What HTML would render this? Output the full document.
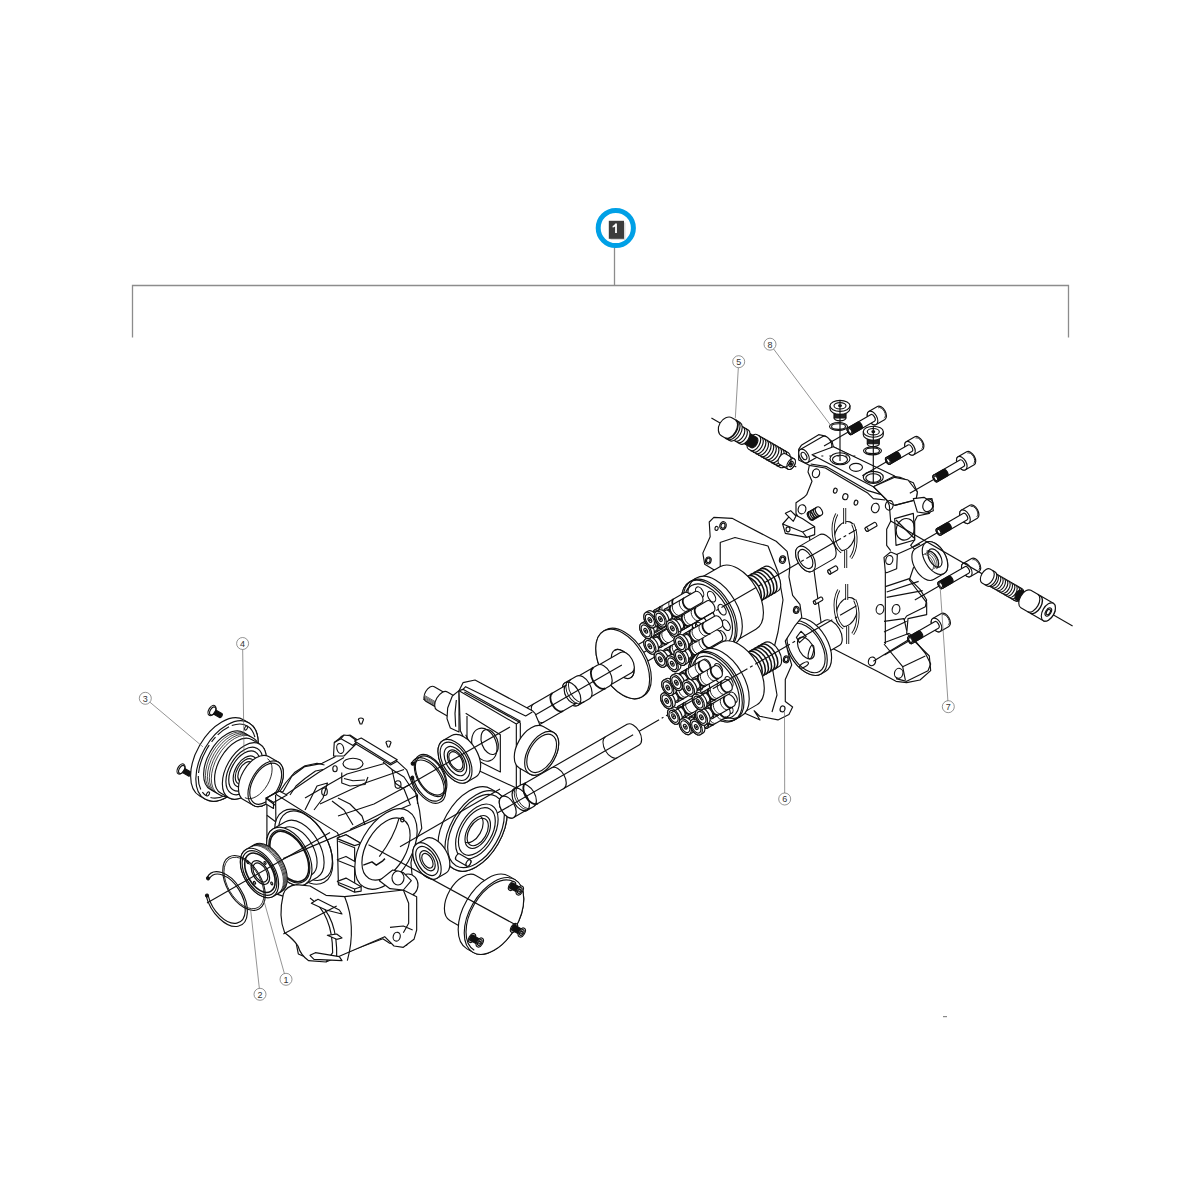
<!DOCTYPE html>
<html><head><meta charset="utf-8"><style>
html,body{margin:0;padding:0;background:#fff;width:1200px;height:1200px;overflow:hidden}
svg{display:block}
</style></head><body>
<svg width="1200" height="1200" viewBox="0 0 1200 1200">
<g stroke="#8c8c8c" stroke-width="1.3" fill="none"><path d="M132.5 337.5 V285.5 H1068.5 V337.5"/><path d="M614.5 285.5 V247"/></g>
<circle cx="615.8" cy="228" r="17.6" fill="#fff" stroke="#00a0e6" stroke-width="5"/>
<rect x="943" y="1016" width="4" height="1.2" fill="#888"/>
<rect x="610.5" y="222.5" width="15" height="17.5" fill="#d8d8d8"/>
<rect x="608.8" y="220.8" width="15.2" height="18" fill="#3c3c3c"/>
<path d="M615.3 223.6 L616.9 223.6 L616.9 233 L615.1 233 L615.1 226.4 Q613.9 227.3 612.6 227.6 L612.6 226.1 Q614.4 225.3 615.3 223.6Z" fill="#fff"/>
<g stroke="#111" stroke-width="1.15" stroke-linejoin="round" fill="#fff">
<path d="M798.67 449.33L801.33 445.33L818.67 434.67L825.33 436L832 441.33L833.33 446.67L892 476L900 477.33L913.33 482.67L917.33 492L916 500L932 498.67L933.33 506.67L929.33 513.33L917.33 516L914.67 521.33L914.67 540L910.67 545.33L918.67 553.33L921.33 561.33L913.33 568L909.33 580L926.67 602.67L926.67 614.67L908 618.67L906.67 633.33L929.33 656L930.67 670.67L920 680L906.67 682.67L896 681.33L878.67 672L824 644L809.33 536L804 526.67L796 513.33L796 502.67L804 497.33L806.67 494.67L812 481.33L808 472L809.33 465.33L798.67 460Z" fill="#fff" /><g transform="translate(804 456) rotate(-30)" ><path d="M0 -7.5L26 -7.5A4.35 7.5 0 0 1 26 7.5L0 7.5A4.35 7.5 0 0 1 0 -7.5Z" fill="#fff" /><ellipse cx="0" cy="0" rx="4.35" ry="7.5" fill="#fff" /><ellipse cx="0" cy="0" rx="2.32" ry="4" fill="none" /></g><path d="M812 454.67L833.33 446.67L894.67 476L873.33 486.67Z" fill="#fff" /><path d="M813.33 456L860 456" fill="none" stroke-dasharray="2 6"/><ellipse cx="840" cy="458.7" rx="10" ry="6" fill="none" /><ellipse cx="840" cy="459.5" rx="7.5" ry="4.3" fill="none" /><ellipse cx="856" cy="467.3" rx="6.5" ry="4" fill="none" /><ellipse cx="873.3" cy="477.3" rx="10" ry="6" fill="none" /><ellipse cx="873.3" cy="478" rx="7.5" ry="4.3" fill="none" /><path d="M809.33 465.33L825.33 468L868 493.33L873.33 498.67L885.33 500" fill="none" /><path d="M810.67 464L826.67 466.67L868 490.67L881.33 494.67" fill="none" /><path d="M873.33 486.67L894.67 477.33L908 480L917.33 492L916 500L894.67 505.33L889.33 502.67L881.33 494.67Z" fill="#fff" /><path d="M894.67 505.33L914.67 500" fill="none" /><path d="M873.33 486.67L881.33 494.67L886.67 500L889.33 505.33L890.67 521.33L886.67 529.33L886.67 545.33L890.67 550.67" fill="none" /><path d="M894.67 518.67L913.33 513.33L914.67 540L896 545.33Z" fill="#fff" /><ellipse cx="905.3" cy="529.3" rx="9" ry="11" fill="none" transform="rotate(20 905.3 529.3)" /><line x1="896" y1="520" x2="914" y2="538" /><path d="M913.33 498.67L924 497.33L932 502.67L933.33 510.67L926.67 513.33L917.33 512Z" fill="#fff" /><ellipse cx="928" cy="505.33" rx="5" ry="6.5" fill="none" transform="rotate(20 928 505.33)" /><ellipse cx="816" cy="473.3" rx="3.6" ry="4.4" fill="none" transform="rotate(15 816 473.3)" /><ellipse cx="802" cy="509.3" rx="3.8" ry="4.6" fill="none" transform="rotate(15 802 509.3)" /><ellipse cx="875.3" cy="508" rx="3.8" ry="4.8" fill="none" transform="rotate(15 875.3 508)" /><ellipse cx="889.3" cy="505.3" rx="3.8" ry="4.8" fill="none" transform="rotate(15 889.3 505.3)" /><ellipse cx="835.3" cy="490.7" rx="1.8" ry="2.5" fill="none" transform="rotate(15 835.3 490.7)" /><ellipse cx="845.3" cy="496.7" rx="2.6" ry="3" fill="none" transform="rotate(15 845.3 496.7)" /><ellipse cx="856" cy="502.7" rx="1.8" ry="2.5" fill="none" transform="rotate(15 856 502.7)" /><ellipse cx="880" cy="609.3" rx="3.8" ry="4.8" fill="none" transform="rotate(15 880 609.3)" /><ellipse cx="896" cy="609.3" rx="3.8" ry="4.8" fill="none" transform="rotate(15 896 609.3)" /><ellipse cx="889.3" cy="560" rx="3.5" ry="4.5" fill="none" transform="rotate(15 889.3 560)" /><ellipse cx="898.7" cy="673.3" rx="4.2" ry="5" fill="none" transform="rotate(15 898.7 673.3)" /><ellipse cx="844.7" cy="536" rx="10" ry="15" fill="none" transform="rotate(20 844.7 536)" /><path d="M836.7 514 A14 24 0 0 0 841.7 552" fill="none" stroke-width="3.2"/><path d="M836.7 514 A14 24 0 0 0 841.7 552" fill="none" stroke="#fff" stroke-width="1.4"/><path d="M852.7 524 A14 24 0 0 1 850.7 558" fill="none" stroke-width="3.2"/><path d="M852.7 524 A14 24 0 0 1 850.7 558" fill="none" stroke="#fff" stroke-width="1.4"/><line x1="844.7" y1="508" x2="844.7" y2="524" stroke-width="3"/><line x1="844.7" y1="508" x2="844.7" y2="524" stroke="#fff" stroke-width="1.2"/><line x1="845.7" y1="550" x2="845.7" y2="568" stroke-width="3"/><line x1="845.7" y1="550" x2="845.7" y2="568" stroke="#fff" stroke-width="1.2"/><ellipse cx="846.7" cy="612" rx="10" ry="15" fill="none" transform="rotate(20 846.7 612)" /><path d="M838.7 590 A14 24 0 0 0 843.7 628" fill="none" stroke-width="3.2"/><path d="M838.7 590 A14 24 0 0 0 843.7 628" fill="none" stroke="#fff" stroke-width="1.4"/><path d="M854.7 600 A14 24 0 0 1 852.7 634" fill="none" stroke-width="3.2"/><path d="M854.7 600 A14 24 0 0 1 852.7 634" fill="none" stroke="#fff" stroke-width="1.4"/><line x1="846.7" y1="584" x2="846.7" y2="600" stroke-width="3"/><line x1="846.7" y1="584" x2="846.7" y2="600" stroke="#fff" stroke-width="1.2"/><line x1="847.7" y1="626" x2="847.7" y2="644" stroke-width="3"/><line x1="847.7" y1="626" x2="847.7" y2="644" stroke="#fff" stroke-width="1.2"/><path d="M885.33 572L884 557.33L890.67 552L897.33 554.67L896.67 568.67L886.67 572.67Z" fill="#fff" /><path d="M896 554.67L920 544" fill="none" /><ellipse cx="889.3" cy="560" rx="3.5" ry="4.5" fill="none" transform="rotate(15 889.3 560)" /><path d="M885.33 586.67L909.33 578.67L920 589.33L926.67 600L925.33 606.67L906.67 616L904 620" fill="none" /><path d="M886.67 592L918.67 581.33" fill="none" /><path d="M886.67 597.33L922.67 590.67" fill="none" /><path d="M884 621.33L904 618.67L906.67 630.67" fill="none" /><path d="M884 632L906.67 621.33" fill="none" /><path d="M884 642.67L909.33 633.33" fill="none" /><path d="M909.33 633.33L925.33 653.33L930.67 664L928 670.67L906.67 681.33L896 678.67" fill="none" /><path d="M884 644L902.67 666.67L905.33 680" fill="none" /><path d="M902.67 666.67L925.33 656" fill="none" /><path d="M885.33 572L885.33 644" fill="none" /><line x1="873.33" y1="661.33" x2="914.67" y2="636" /><ellipse cx="872" cy="661.33" rx="3.6" ry="4.4" fill="none" transform="rotate(15 872 661.33)" /><g transform="translate(866.67 529.33) rotate(-30)" ><path d="M0 -2.2L10 -2.2A1.28 2.2 0 0 1 10 2.2L0 2.2A1.28 2.2 0 0 1 0 -2.2Z" fill="#fff" /><ellipse cx="0" cy="0" rx="1.28" ry="2.2" fill="#fff" /></g><g transform="translate(829.33 572) rotate(-30)" ><path d="M0 -2.2L8 -2.2A1.28 2.2 0 0 1 8 2.2L0 2.2A1.28 2.2 0 0 1 0 -2.2Z" fill="#fff" /><ellipse cx="0" cy="0" rx="1.28" ry="2.2" fill="#fff" /></g><g transform="translate(814.67 602.67) rotate(-30)" ><path d="M0 -1.8L8 -1.8A1.04 1.8 0 0 1 8 1.8L0 1.8A1.04 1.8 0 0 1 0 -1.8Z" fill="#fff" /><ellipse cx="0" cy="0" rx="1.04" ry="1.8" fill="#fff" /></g><g transform="translate(810.67 516) rotate(-30)" ><path d="M0 -4.5L10 -4.5A2.61 4.5 0 0 1 10 4.5L0 4.5A2.61 4.5 0 0 1 0 -4.5Z" fill="#fff" /><ellipse cx="0" cy="0" rx="2.61" ry="4.5" fill="#fff" /><path d="M1 -4.5A2.61 4.5 0 0 0 1 4.5" fill="none" stroke-width="1.3"/><path d="M3 -4.5A2.61 4.5 0 0 0 3 4.5" fill="none" stroke-width="1.3"/><path d="M5 -4.5A2.61 4.5 0 0 0 5 4.5" fill="none" stroke-width="1.3"/><path d="M7 -4.5A2.61 4.5 0 0 0 7 4.5" fill="none" stroke-width="1.3"/><path d="M9 -4.5A2.61 4.5 0 0 0 9 4.5" fill="none" stroke-width="1.3"/></g><path d="M782.67 524L792 513.33L802.67 518.67L814.67 526.67L814.67 534.67L806.67 537.33L785.33 533.33Z" fill="#fff" /><path d="M782.67 524L802.67 532L814.67 526.67" fill="none" /><path d="M802.67 532L806.67 537.33" fill="none" /><ellipse cx="788" cy="529.33" rx="2" ry="2.5" fill="none" /><path d="M785.33 513.33L790.67 510.67L796 516L793.33 521.33Z" fill="#fff" />
<rect x="834" y="408.8" width="12" height="9" fill="#222"/><path d="M834 417.8 A6 3 0 0 0 846 417.8" fill="none"/><path d="M830 405.8 L830 408.8 A10 5.5 0 0 0 850 408.8 L850 405.8Z" fill="#fff"/><ellipse cx="840" cy="405.8" rx="10" ry="5.5" fill="#fff" /><ellipse cx="840" cy="405.8" rx="6" ry="3.2" fill="none" /><ellipse cx="840" cy="405.8" rx="1.4" ry="0.9" fill="#111" /><ellipse cx="838.5" cy="426.5" rx="9" ry="4" fill="none" /><ellipse cx="838.5" cy="426.5" rx="7" ry="2.8" fill="none" /><line x1="840" y1="400" x2="840" y2="461" /><rect x="867.3" y="434.7" width="12" height="9" fill="#222"/><path d="M867.3 443.7 A6 3 0 0 0 879.3 443.7" fill="none"/><path d="M863.3 431.7 L863.3 434.7 A10 5.5 0 0 0 883.3 434.7 L883.3 431.7Z" fill="#fff"/><ellipse cx="873.3" cy="431.7" rx="10" ry="5.5" fill="#fff" /><ellipse cx="873.3" cy="431.7" rx="6" ry="3.2" fill="none" /><ellipse cx="873.3" cy="431.7" rx="1.4" ry="0.9" fill="#111" /><ellipse cx="872.5" cy="450.8" rx="9" ry="4" fill="none" /><ellipse cx="872.5" cy="450.8" rx="7" ry="2.8" fill="none" /><line x1="873.3" y1="426" x2="873.3" y2="482" />
<g transform="translate(850 431) rotate(-30)" ><path d="M26 -7.5L36 -7.5A4.35 7.5 0 0 1 36 7.5L26 7.5A4.35 7.5 0 0 1 26 -7.5Z" fill="#fff" /><path d="M36 -6A3.48 6 0 0 1 36 6" fill="none" stroke-width="0.8"/><ellipse cx="26" cy="0" rx="4.35" ry="7.5" fill="#fff" /><path d="M0 -3.8L26 -3.8A2.2 3.8 0 0 1 26 3.8L0 3.8A2.2 3.8 0 0 1 0 -3.8Z" fill="#fff" /><path d="M0 -3.8L11 -3.8A2.2 3.8 0 0 1 11 3.8L0 3.8A2.2 3.8 0 0 1 0 -3.8Z" fill="#111" /><ellipse cx="0" cy="0" rx="2.2" ry="3.8" fill="#fff" /><ellipse cx="0" cy="0" rx="1.51" ry="2.6" fill="none" /><line x1="-1" y1="0" x2="-30" y2="0" /></g><g transform="translate(888.3 460.8) rotate(-30)" ><path d="M25 -7.5L35 -7.5A4.35 7.5 0 0 1 35 7.5L25 7.5A4.35 7.5 0 0 1 25 -7.5Z" fill="#fff" /><path d="M35 -6A3.48 6 0 0 1 35 6" fill="none" stroke-width="0.8"/><ellipse cx="25" cy="0" rx="4.35" ry="7.5" fill="#fff" /><path d="M0 -3.8L25 -3.8A2.2 3.8 0 0 1 25 3.8L0 3.8A2.2 3.8 0 0 1 0 -3.8Z" fill="#fff" /><path d="M0 -3.8L11 -3.8A2.2 3.8 0 0 1 11 3.8L0 3.8A2.2 3.8 0 0 1 0 -3.8Z" fill="#111" /><ellipse cx="0" cy="0" rx="2.2" ry="3.8" fill="#fff" /><ellipse cx="0" cy="0" rx="1.51" ry="2.6" fill="none" /><line x1="-1" y1="0" x2="-30" y2="0" /></g><g transform="translate(935.8 478.3) rotate(-30)" ><path d="M30 -7.5L40 -7.5A4.35 7.5 0 0 1 40 7.5L30 7.5A4.35 7.5 0 0 1 30 -7.5Z" fill="#fff" /><path d="M40 -6A3.48 6 0 0 1 40 6" fill="none" stroke-width="0.8"/><ellipse cx="30" cy="0" rx="4.35" ry="7.5" fill="#fff" /><path d="M0 -3.8L30 -3.8A2.2 3.8 0 0 1 30 3.8L0 3.8A2.2 3.8 0 0 1 0 -3.8Z" fill="#fff" /><path d="M0 -3.8L11 -3.8A2.2 3.8 0 0 1 11 3.8L0 3.8A2.2 3.8 0 0 1 0 -3.8Z" fill="#111" /><ellipse cx="0" cy="0" rx="2.2" ry="3.8" fill="#fff" /><ellipse cx="0" cy="0" rx="1.51" ry="2.6" fill="none" /><line x1="-1" y1="0" x2="-30" y2="0" /></g><g transform="translate(939 531.7) rotate(-30)" ><path d="M30 -7.5L40 -7.5A4.35 7.5 0 0 1 40 7.5L30 7.5A4.35 7.5 0 0 1 30 -7.5Z" fill="#fff" /><path d="M40 -6A3.48 6 0 0 1 40 6" fill="none" stroke-width="0.8"/><ellipse cx="30" cy="0" rx="4.35" ry="7.5" fill="#fff" /><path d="M0 -3.8L30 -3.8A2.2 3.8 0 0 1 30 3.8L0 3.8A2.2 3.8 0 0 1 0 -3.8Z" fill="#fff" /><path d="M0 -3.8L11 -3.8A2.2 3.8 0 0 1 11 3.8L0 3.8A2.2 3.8 0 0 1 0 -3.8Z" fill="#111" /><ellipse cx="0" cy="0" rx="2.2" ry="3.8" fill="#fff" /><ellipse cx="0" cy="0" rx="1.51" ry="2.6" fill="none" /><line x1="-1" y1="0" x2="-30" y2="0" /></g><g transform="translate(940.8 585) rotate(-30)" ><path d="M30 -7.5L40 -7.5A4.35 7.5 0 0 1 40 7.5L30 7.5A4.35 7.5 0 0 1 30 -7.5Z" fill="#fff" /><path d="M40 -6A3.48 6 0 0 1 40 6" fill="none" stroke-width="0.8"/><ellipse cx="30" cy="0" rx="4.35" ry="7.5" fill="#fff" /><path d="M0 -3.8L30 -3.8A2.2 3.8 0 0 1 30 3.8L0 3.8A2.2 3.8 0 0 1 0 -3.8Z" fill="#fff" /><path d="M0 -3.8L11 -3.8A2.2 3.8 0 0 1 11 3.8L0 3.8A2.2 3.8 0 0 1 0 -3.8Z" fill="#111" /><ellipse cx="0" cy="0" rx="2.2" ry="3.8" fill="#fff" /><ellipse cx="0" cy="0" rx="1.51" ry="2.6" fill="none" /><line x1="-1" y1="0" x2="-30" y2="0" /></g><g transform="translate(910.5 640) rotate(-30)" ><path d="M30 -7.5L40 -7.5A4.35 7.5 0 0 1 40 7.5L30 7.5A4.35 7.5 0 0 1 30 -7.5Z" fill="#fff" /><path d="M40 -6A3.48 6 0 0 1 40 6" fill="none" stroke-width="0.8"/><ellipse cx="30" cy="0" rx="4.35" ry="7.5" fill="#fff" /><path d="M0 -3.8L30 -3.8A2.2 3.8 0 0 1 30 3.8L0 3.8A2.2 3.8 0 0 1 0 -3.8Z" fill="#fff" /><path d="M0 -3.8L11 -3.8A2.2 3.8 0 0 1 11 3.8L0 3.8A2.2 3.8 0 0 1 0 -3.8Z" fill="#111" /><ellipse cx="0" cy="0" rx="2.2" ry="3.8" fill="#fff" /><ellipse cx="0" cy="0" rx="1.51" ry="2.6" fill="none" /><line x1="-1" y1="0" x2="-30" y2="0" /></g>
<g transform="translate(935 558) rotate(-30)" ><path d="M-12 -18L0 -18A10.44 18 0 0 1 0 18L-12 18A10.44 18 0 0 1 -12 -18Z" fill="#fff" /><ellipse cx="0" cy="0" rx="10.44" ry="18" fill="#fff" /><ellipse cx="0" cy="0" rx="5.8" ry="10" fill="none" /><path d="M-4 -10A5.8 10 0 0 1 -4 10" fill="none" /><path d="M-3 -9A5.22 9 0 0 1 -3 9" fill="none" stroke-width="0.6"/><path d="M-5 -9A5.22 9 0 0 1 -5 9" fill="none" stroke-width="0.6"/><path d="M-7 -9A5.22 9 0 0 1 -7 9" fill="none" stroke-width="0.6"/><path d="M-9 -9A5.22 9 0 0 1 -9 9" fill="none" stroke-width="0.6"/></g>
<g transform="translate(986 576) rotate(30)" ><line x1="-110" y1="0" x2="100" y2="0" /><path d="M4 -7L38 -7A4.06 7 0 0 1 38 7L4 7A4.06 7 0 0 1 4 -7Z" fill="#fff" /><path d="M6 -7A4.06 7 0 0 1 6 7" fill="none" stroke-width="1.1"/><path d="M8.7 -7A4.06 7 0 0 1 8.7 7" fill="none" stroke-width="1.1"/><path d="M11.4 -7A4.06 7 0 0 1 11.4 7" fill="none" stroke-width="1.1"/><path d="M14.1 -7A4.06 7 0 0 1 14.1 7" fill="none" stroke-width="1.1"/><path d="M16.8 -7A4.06 7 0 0 1 16.8 7" fill="none" stroke-width="1.1"/><path d="M19.5 -7A4.06 7 0 0 1 19.5 7" fill="none" stroke-width="1.1"/><path d="M22.2 -7A4.06 7 0 0 1 22.2 7" fill="none" stroke-width="1.1"/><path d="M24.9 -7A4.06 7 0 0 1 24.9 7" fill="none" stroke-width="1.1"/><path d="M27.6 -7A4.06 7 0 0 1 27.6 7" fill="none" stroke-width="1.1"/><path d="M30.3 -7A4.06 7 0 0 1 30.3 7" fill="none" stroke-width="1.1"/><path d="M33 -7A4.06 7 0 0 1 33 7" fill="none" stroke-width="1.1"/><path d="M35.7 -7A4.06 7 0 0 1 35.7 7" fill="none" stroke-width="1.1"/><path d="M0 -8L6 -8A4.64 8 0 0 1 6 8L0 8A4.64 8 0 0 1 0 -8Z" fill="#fff" /><path d="M3 -8A4.64 8 0 0 1 3 8" fill="none" /><path d="M38 -5.5L47 -5.5A3.19 5.5 0 0 1 47 5.5L38 5.5A3.19 5.5 0 0 1 38 -5.5Z" fill="#111" /><path d="M46 -10L72 -10A5.8 10 0 0 1 72 10L46 10A5.8 10 0 0 1 46 -10Z" fill="#fff" /><ellipse cx="72" cy="0" rx="5.8" ry="10" fill="#fff" /><path d="M54 -10A5.8 10 0 0 1 54 10" fill="none" /><path d="M57 -10A5.8 10 0 0 1 57 10" fill="none" stroke-width="1.4"/><ellipse cx="72" cy="0" rx="2.61" ry="4.5" fill="none" /><ellipse cx="72" cy="0" rx="1.74" ry="3" fill="none" /></g>
<g transform="translate(727 427) rotate(30)" ><line x1="-18" y1="0" x2="80" y2="0" /><path d="M30 -8.5L66 -8.5A4.93 8.5 0 0 1 66 8.5L30 8.5A4.93 8.5 0 0 1 30 -8.5Z" fill="#fff" /><path d="M32 -8.5A4.93 8.5 0 0 1 32 8.5" fill="none" stroke-width="1.2"/><path d="M35 -8.5A4.93 8.5 0 0 1 35 8.5" fill="none" stroke-width="1.2"/><path d="M38 -8.5A4.93 8.5 0 0 1 38 8.5" fill="none" stroke-width="1.2"/><path d="M41 -8.5A4.93 8.5 0 0 1 41 8.5" fill="none" stroke-width="1.2"/><path d="M44 -8.5A4.93 8.5 0 0 1 44 8.5" fill="none" stroke-width="1.2"/><path d="M47 -8.5A4.93 8.5 0 0 1 47 8.5" fill="none" stroke-width="1.2"/><path d="M50 -8.5A4.93 8.5 0 0 1 50 8.5" fill="none" stroke-width="1.2"/><path d="M53 -8.5A4.93 8.5 0 0 1 53 8.5" fill="none" stroke-width="1.2"/><path d="M56 -8.5A4.93 8.5 0 0 1 56 8.5" fill="none" stroke-width="1.2"/><path d="M59 -8.5A4.93 8.5 0 0 1 59 8.5" fill="none" stroke-width="1.2"/><path d="M62 -8.5A4.93 8.5 0 0 1 62 8.5" fill="none" stroke-width="1.2"/><path d="M64 -6L74 -6A3.48 6 0 0 1 74 6L64 6A3.48 6 0 0 1 64 -6Z" fill="#fff" /><ellipse cx="74" cy="0" rx="3.48" ry="6" fill="#fff" /><ellipse cx="74" cy="0" rx="1.74" ry="3" fill="none" /><ellipse cx="74" cy="0" rx="0.7" ry="1.2" fill="#111" /><path d="M69 -6A3.48 6 0 0 1 69 6" fill="none" /><path d="M20 -5.8L31 -5.8A3.36 5.8 0 0 1 31 5.8L20 5.8A3.36 5.8 0 0 1 20 -5.8Z" fill="#111" /><path d="M9 -8L20 -8A4.64 8 0 0 1 20 8L9 8A4.64 8 0 0 1 9 -8Z" fill="#fff" /><path d="M14 -8A4.64 8 0 0 1 14 8" fill="none" /><path d="M17 -8A4.64 8 0 0 1 17 8" fill="none" /><path d="M0 -10.5 L9 -10.5 A6.1 10.5 0 0 1 9 10.5 L0 10.5 A8 10.5 0 0 1 0 -10.5Z" fill="#fff"/><path d="M4 -10.5A6.09 10.5 0 0 1 4 10.5" fill="none" stroke-width="1.8"/><path d="M6.5 -10.5A6.09 10.5 0 0 1 6.5 10.5" fill="none" /></g>
<g transform="translate(806 648) rotate(-30)" ><path d="M4 -14.5L30 -14.5A8.41 14.5 0 0 1 30 14.5L4 14.5A8.41 14.5 0 0 1 4 -14.5Z" fill="#fff" /><path d="M0 -30L5 -30A17.4 30 0 0 1 5 30L0 30A17.4 30 0 0 1 0 -30Z" fill="#fff" /><ellipse cx="0" cy="0" rx="17.4" ry="30" fill="#fff" /><ellipse cx="0" cy="0" rx="15.66" ry="27" fill="none" /><path d="M-3 -8 L-3 -14 L4 -17 L6 -10Z" fill="none"/><ellipse cx="0" cy="0" rx="6.96" ry="12" fill="none" /></g><ellipse cx="811" cy="652" rx="2.2" ry="7" fill="none" transform="rotate(15 811 652)" /><ellipse cx="804" cy="665" rx="5" ry="2" fill="none" transform="rotate(-30 804 665)" />
<path d="M709.24 521.99L713.82 517.41L732.15 518.33L735.81 520.16L770.63 538.48L776.13 541.23L787.12 551.31L789.87 565.97L788.96 576.97L792.62 595.29L799.95 604.45L801.78 617.28L794.45 626.44L785.29 641.1L788.96 655.76L791.7 664.93L785.29 679.59L785.29 701.58L792.62 707.07L788.96 714.4L777.96 719.9L759.64 716.24L754.14 710.74L760 720L715 700L700 640L700 580L719.32 571.47L713.82 569.64L704.66 564.14L702.83 553.14L710.16 536.65Z" fill="#fff" /><path d="M720 542.5L735 537.5L768 546L778 572L783 600L778 632L771 660L777 695L772 712" fill="none" /><path d="M720.24 542.15L720.24 573.3" fill="none" /><ellipse cx="722.99" cy="525.66" rx="3.2" ry="4" fill="none" transform="rotate(15 722.99 525.66)"/><ellipse cx="722.99" cy="525.66" rx="2" ry="2.6" fill="none" transform="rotate(15 722.99 525.66)"/><ellipse cx="716.57" cy="528.4" rx="1.6" ry="2" fill="none" transform="rotate(15 716.57 528.4)"/><ellipse cx="708.33" cy="560.47" rx="2.8" ry="3.5" fill="none" transform="rotate(15 708.33 560.47)"/><ellipse cx="708.33" cy="560.47" rx="1.75" ry="2.27" fill="none" transform="rotate(15 708.33 560.47)"/><ellipse cx="782.54" cy="559.56" rx="3.04" ry="3.8" fill="none" transform="rotate(15 782.54 559.56)"/><ellipse cx="782.54" cy="559.56" rx="1.9" ry="2.47" fill="none" transform="rotate(15 782.54 559.56)"/><ellipse cx="796.29" cy="609.95" rx="2.8" ry="3.5" fill="none" transform="rotate(15 796.29 609.95)"/><ellipse cx="796.29" cy="609.95" rx="1.75" ry="2.27" fill="none" transform="rotate(15 796.29 609.95)"/><ellipse cx="786.21" cy="659.43" rx="2.8" ry="3.5" fill="none" transform="rotate(15 786.21 659.43)"/><ellipse cx="786.21" cy="659.43" rx="1.75" ry="2.27" fill="none" transform="rotate(15 786.21 659.43)"/><ellipse cx="782.54" cy="708.91" rx="2.4" ry="3" fill="none" transform="rotate(15 782.54 708.91)"/>
<g transform="translate(705 617) rotate(-30)" ><path d="M116 -14L140 -14A8.12 14 0 0 1 140 14L116 14A8.12 14 0 0 1 116 -14Z" fill="#fff" /><ellipse cx="116" cy="0" rx="8.12" ry="14" fill="#fff" /><ellipse cx="116" cy="0" rx="6.09" ry="10.5" fill="none" /></g>
<g transform="translate(705 617) rotate(-30)" ><path d="M-93 -9.5L-30 -9.5A5.51 9.5 0 0 1 -30 9.5L-93 9.5A5.51 9.5 0 0 1 -93 -9.5Z" fill="#fff" /><line x1="-93" y1="0" x2="-30" y2="0" /></g>
<g transform="translate(705 617) rotate(-30)" ><path d="M46 -14L76 -14A8.12 14 0 0 1 76 14L46 14A8.12 14 0 0 1 46 -14Z" fill="#fff" /><path d="M50 -14A8.12 14 0 0 1 50 14" fill="none" stroke-width="1.5"/><path d="M53.6 -14A8.12 14 0 0 1 53.6 14" fill="none" stroke-width="1.5"/><path d="M57.2 -14A8.12 14 0 0 1 57.2 14" fill="none" stroke-width="1.5"/><path d="M60.8 -14A8.12 14 0 0 1 60.8 14" fill="none" stroke-width="1.5"/><path d="M64.4 -14A8.12 14 0 0 1 64.4 14" fill="none" stroke-width="1.5"/><path d="M68 -14A8.12 14 0 0 1 68 14" fill="none" stroke-width="1.5"/><path d="M71.6 -14A8.12 14 0 0 1 71.6 14" fill="none" stroke-width="1.5"/><ellipse cx="48" cy="0" rx="8.12" ry="14" fill="none" stroke-width="1.3"/><ellipse cx="49" cy="0" rx="5.51" ry="9.5" fill="none" /><path d="M12 -36L38 -36A20.88 36 0 0 1 38 36L12 36A20.88 36 0 0 1 12 -36Z" fill="#fff" /><path d="M4 -38L12 -38A22.04 38 0 0 1 12 38L4 38A22.04 38 0 0 1 4 -38Z" fill="#fff" /><ellipse cx="4" cy="0" rx="22.04" ry="38" fill="#fff" /><ellipse cx="6" cy="0" rx="22.04" ry="38" fill="none" /><path d="M11 -38A22.04 38 0 0 0 11 38" fill="none" /><ellipse cx="4" cy="0" rx="19.72" ry="34" fill="none" /><ellipse cx="-2.13" cy="-22.66" rx="3.36" ry="5.8" fill="none" /><ellipse cx="7.75" cy="-24.15" rx="3.36" ry="5.8" fill="none" /><ellipse cx="15.88" cy="-14.34" rx="3.36" ry="5.8" fill="none" /><ellipse cx="18.44" cy="2.18" rx="3.36" ry="5.8" fill="none" /><ellipse cx="14.25" cy="17.68" rx="3.36" ry="5.8" fill="none" /><ellipse cx="5.26" cy="24.9" rx="3.36" ry="5.8" fill="none" /><ellipse cx="-4.32" cy="20.48" rx="3.36" ry="5.8" fill="none" /><ellipse cx="-10.01" cy="6.47" rx="3.36" ry="5.8" fill="none" /><ellipse cx="-9.14" cy="-10.57" rx="3.36" ry="5.8" fill="none" /><ellipse cx="4" cy="0" rx="5.22" ry="9" fill="none" /><path d="M-53.44 -8.58L-18.44 -8.58A3.71 6.4 0 0 1 -18.44 4.22L-53.44 4.22A3.71 6.4 0 0 1 -53.44 -8.58Z" fill="#fff" /><path d="M-46.44 -8.58A3.71 6.4 0 0 0 -46.44 4.22" fill="none" stroke-width="2.0"/><path d="M-43.44 -8.58A3.71 6.4 0 0 0 -43.44 4.22" fill="none" stroke-width="0.8"/><path d="M-35.44 -8.58A3.71 6.4 0 0 0 -35.44 4.22" fill="none" stroke-width="0.8"/><path d="M-31.44 -8.58A3.71 6.4 0 0 0 -31.44 4.22" fill="none" stroke-width="1.8"/><ellipse cx="-53.44" cy="-2.18" rx="3.71" ry="6.4" fill="#fff" /><path d="M-59.44 -7.18L-53.44 -7.18A2.9 5 0 0 1 -53.44 2.82L-59.44 2.82A2.9 5 0 0 1 -59.44 -7.18Z" fill="#fff" /><path d="M-56.44 -7.18A2.9 5 0 0 0 -56.44 2.82" fill="none" /><path d="M-62.44 -10.78L-59.44 -10.78A4.99 8.6 0 0 1 -59.44 6.42L-62.44 6.42A4.99 8.6 0 0 1 -62.44 -10.78Z" fill="#fff" /><ellipse cx="-62.44" cy="-2.18" rx="4.99" ry="8.6" fill="#fff" /><ellipse cx="-62.44" cy="-2.18" rx="3.77" ry="6.5" fill="none" /><ellipse cx="-62.44" cy="-2.18" rx="1.51" ry="2.6" fill="none" /><ellipse cx="-62.44" cy="-2.18" rx="0.35" ry="0.6" fill="#111" /><path d="M-50.88 7.94L-15.88 7.94A3.71 6.4 0 0 1 -15.88 20.74L-50.88 20.74A3.71 6.4 0 0 1 -50.88 7.94Z" fill="#fff" /><path d="M-43.88 7.94A3.71 6.4 0 0 0 -43.88 20.74" fill="none" stroke-width="2.0"/><path d="M-40.88 7.94A3.71 6.4 0 0 0 -40.88 20.74" fill="none" stroke-width="0.8"/><path d="M-32.88 7.94A3.71 6.4 0 0 0 -32.88 20.74" fill="none" stroke-width="0.8"/><path d="M-28.88 7.94A3.71 6.4 0 0 0 -28.88 20.74" fill="none" stroke-width="1.8"/><ellipse cx="-50.88" cy="14.34" rx="3.71" ry="6.4" fill="#fff" /><path d="M-56.88 9.34L-50.88 9.34A2.9 5 0 0 1 -50.88 19.34L-56.88 19.34A2.9 5 0 0 1 -56.88 9.34Z" fill="#fff" /><path d="M-53.88 9.34A2.9 5 0 0 0 -53.88 19.34" fill="none" /><path d="M-59.88 5.74L-56.88 5.74A4.99 8.6 0 0 1 -56.88 22.94L-59.88 22.94A4.99 8.6 0 0 1 -59.88 5.74Z" fill="#fff" /><ellipse cx="-59.88" cy="14.34" rx="4.99" ry="8.6" fill="#fff" /><ellipse cx="-59.88" cy="14.34" rx="3.77" ry="6.5" fill="none" /><ellipse cx="-59.88" cy="14.34" rx="1.51" ry="2.6" fill="none" /><ellipse cx="-59.88" cy="14.34" rx="0.35" ry="0.6" fill="#111" /><path d="M-49.25 -24.08L-14.25 -24.08A3.71 6.4 0 0 1 -14.25 -11.28L-49.25 -11.28A3.71 6.4 0 0 1 -49.25 -24.08Z" fill="#fff" /><path d="M-42.25 -24.08A3.71 6.4 0 0 0 -42.25 -11.28" fill="none" stroke-width="2.0"/><path d="M-39.25 -24.08A3.71 6.4 0 0 0 -39.25 -11.28" fill="none" stroke-width="0.8"/><path d="M-31.25 -24.08A3.71 6.4 0 0 0 -31.25 -11.28" fill="none" stroke-width="0.8"/><path d="M-27.25 -24.08A3.71 6.4 0 0 0 -27.25 -11.28" fill="none" stroke-width="1.8"/><ellipse cx="-49.25" cy="-17.68" rx="3.71" ry="6.4" fill="#fff" /><path d="M-55.25 -22.68L-49.25 -22.68A2.9 5 0 0 1 -49.25 -12.68L-55.25 -12.68A2.9 5 0 0 1 -55.25 -22.68Z" fill="#fff" /><path d="M-52.25 -22.68A2.9 5 0 0 0 -52.25 -12.68" fill="none" /><path d="M-58.25 -26.28L-55.25 -26.28A4.99 8.6 0 0 1 -55.25 -9.08L-58.25 -9.08A4.99 8.6 0 0 1 -58.25 -26.28Z" fill="#fff" /><ellipse cx="-58.25" cy="-17.68" rx="4.99" ry="8.6" fill="#fff" /><ellipse cx="-58.25" cy="-17.68" rx="3.77" ry="6.5" fill="none" /><ellipse cx="-58.25" cy="-17.68" rx="1.51" ry="2.6" fill="none" /><ellipse cx="-58.25" cy="-17.68" rx="0.35" ry="0.6" fill="#111" /><path d="M-42.75 17.75L-7.75 17.75A3.71 6.4 0 0 1 -7.75 30.55L-42.75 30.55A3.71 6.4 0 0 1 -42.75 17.75Z" fill="#fff" /><path d="M-35.75 17.75A3.71 6.4 0 0 0 -35.75 30.55" fill="none" stroke-width="2.0"/><path d="M-32.75 17.75A3.71 6.4 0 0 0 -32.75 30.55" fill="none" stroke-width="0.8"/><path d="M-24.75 17.75A3.71 6.4 0 0 0 -24.75 30.55" fill="none" stroke-width="0.8"/><path d="M-20.75 17.75A3.71 6.4 0 0 0 -20.75 30.55" fill="none" stroke-width="1.8"/><ellipse cx="-42.75" cy="24.15" rx="3.71" ry="6.4" fill="#fff" /><path d="M-48.75 19.15L-42.75 19.15A2.9 5 0 0 1 -42.75 29.15L-48.75 29.15A2.9 5 0 0 1 -48.75 19.15Z" fill="#fff" /><path d="M-45.75 19.15A2.9 5 0 0 0 -45.75 29.15" fill="none" /><path d="M-51.75 15.55L-48.75 15.55A4.99 8.6 0 0 1 -48.75 32.75L-51.75 32.75A4.99 8.6 0 0 1 -51.75 15.55Z" fill="#fff" /><ellipse cx="-51.75" cy="24.15" rx="4.99" ry="8.6" fill="#fff" /><ellipse cx="-51.75" cy="24.15" rx="3.77" ry="6.5" fill="none" /><ellipse cx="-51.75" cy="24.15" rx="1.51" ry="2.6" fill="none" /><ellipse cx="-51.75" cy="24.15" rx="0.35" ry="0.6" fill="#111" /><path d="M-40.26 -31.3L-5.26 -31.3A3.71 6.4 0 0 1 -5.26 -18.5L-40.26 -18.5A3.71 6.4 0 0 1 -40.26 -31.3Z" fill="#fff" /><path d="M-33.26 -31.3A3.71 6.4 0 0 0 -33.26 -18.5" fill="none" stroke-width="2.0"/><path d="M-30.26 -31.3A3.71 6.4 0 0 0 -30.26 -18.5" fill="none" stroke-width="0.8"/><path d="M-22.26 -31.3A3.71 6.4 0 0 0 -22.26 -18.5" fill="none" stroke-width="0.8"/><path d="M-18.26 -31.3A3.71 6.4 0 0 0 -18.26 -18.5" fill="none" stroke-width="1.8"/><ellipse cx="-40.26" cy="-24.9" rx="3.71" ry="6.4" fill="#fff" /><path d="M-46.26 -29.9L-40.26 -29.9A2.9 5 0 0 1 -40.26 -19.9L-46.26 -19.9A2.9 5 0 0 1 -46.26 -29.9Z" fill="#fff" /><path d="M-43.26 -29.9A2.9 5 0 0 0 -43.26 -19.9" fill="none" /><path d="M-49.26 -33.5L-46.26 -33.5A4.99 8.6 0 0 1 -46.26 -16.3L-49.26 -16.3A4.99 8.6 0 0 1 -49.26 -33.5Z" fill="#fff" /><ellipse cx="-49.26" cy="-24.9" rx="4.99" ry="8.6" fill="#fff" /><ellipse cx="-49.26" cy="-24.9" rx="3.77" ry="6.5" fill="none" /><ellipse cx="-49.26" cy="-24.9" rx="1.51" ry="2.6" fill="none" /><ellipse cx="-49.26" cy="-24.9" rx="0.35" ry="0.6" fill="#111" /><path d="M-32.87 16.26L2.13 16.26A3.71 6.4 0 0 1 2.13 29.06L-32.87 29.06A3.71 6.4 0 0 1 -32.87 16.26Z" fill="#fff" /><path d="M-25.87 16.26A3.71 6.4 0 0 0 -25.87 29.06" fill="none" stroke-width="2.0"/><path d="M-22.87 16.26A3.71 6.4 0 0 0 -22.87 29.06" fill="none" stroke-width="0.8"/><path d="M-14.87 16.26A3.71 6.4 0 0 0 -14.87 29.06" fill="none" stroke-width="0.8"/><path d="M-10.87 16.26A3.71 6.4 0 0 0 -10.87 29.06" fill="none" stroke-width="1.8"/><ellipse cx="-32.87" cy="22.66" rx="3.71" ry="6.4" fill="#fff" /><path d="M-38.87 17.66L-32.87 17.66A2.9 5 0 0 1 -32.87 27.66L-38.87 27.66A2.9 5 0 0 1 -38.87 17.66Z" fill="#fff" /><path d="M-35.87 17.66A2.9 5 0 0 0 -35.87 27.66" fill="none" /><path d="M-41.87 14.06L-38.87 14.06A4.99 8.6 0 0 1 -38.87 31.26L-41.87 31.26A4.99 8.6 0 0 1 -41.87 14.06Z" fill="#fff" /><ellipse cx="-41.87" cy="22.66" rx="4.99" ry="8.6" fill="#fff" /><ellipse cx="-41.87" cy="22.66" rx="3.77" ry="6.5" fill="none" /><ellipse cx="-41.87" cy="22.66" rx="1.51" ry="2.6" fill="none" /><ellipse cx="-41.87" cy="22.66" rx="0.35" ry="0.6" fill="#111" /><path d="M-30.68 -26.88L4.32 -26.88A3.71 6.4 0 0 1 4.32 -14.08L-30.68 -14.08A3.71 6.4 0 0 1 -30.68 -26.88Z" fill="#fff" /><path d="M-23.68 -26.88A3.71 6.4 0 0 0 -23.68 -14.08" fill="none" stroke-width="2.0"/><path d="M-20.68 -26.88A3.71 6.4 0 0 0 -20.68 -14.08" fill="none" stroke-width="0.8"/><path d="M-12.68 -26.88A3.71 6.4 0 0 0 -12.68 -14.08" fill="none" stroke-width="0.8"/><path d="M-8.68 -26.88A3.71 6.4 0 0 0 -8.68 -14.08" fill="none" stroke-width="1.8"/><ellipse cx="-30.68" cy="-20.48" rx="3.71" ry="6.4" fill="#fff" /><path d="M-36.68 -25.48L-30.68 -25.48A2.9 5 0 0 1 -30.68 -15.48L-36.68 -15.48A2.9 5 0 0 1 -36.68 -25.48Z" fill="#fff" /><path d="M-33.68 -25.48A2.9 5 0 0 0 -33.68 -15.48" fill="none" /><path d="M-39.68 -29.08L-36.68 -29.08A4.99 8.6 0 0 1 -36.68 -11.88L-39.68 -11.88A4.99 8.6 0 0 1 -39.68 -29.08Z" fill="#fff" /><ellipse cx="-39.68" cy="-20.48" rx="4.99" ry="8.6" fill="#fff" /><ellipse cx="-39.68" cy="-20.48" rx="3.77" ry="6.5" fill="none" /><ellipse cx="-39.68" cy="-20.48" rx="1.51" ry="2.6" fill="none" /><ellipse cx="-39.68" cy="-20.48" rx="0.35" ry="0.6" fill="#111" /><path d="M-25.86 4.17L9.14 4.17A3.71 6.4 0 0 1 9.14 16.97L-25.86 16.97A3.71 6.4 0 0 1 -25.86 4.17Z" fill="#fff" /><path d="M-18.86 4.17A3.71 6.4 0 0 0 -18.86 16.97" fill="none" stroke-width="2.0"/><path d="M-15.86 4.17A3.71 6.4 0 0 0 -15.86 16.97" fill="none" stroke-width="0.8"/><path d="M-7.86 4.17A3.71 6.4 0 0 0 -7.86 16.97" fill="none" stroke-width="0.8"/><path d="M-3.86 4.17A3.71 6.4 0 0 0 -3.86 16.97" fill="none" stroke-width="1.8"/><ellipse cx="-25.86" cy="10.57" rx="3.71" ry="6.4" fill="#fff" /><path d="M-31.86 5.57L-25.86 5.57A2.9 5 0 0 1 -25.86 15.57L-31.86 15.57A2.9 5 0 0 1 -31.86 5.57Z" fill="#fff" /><path d="M-28.86 5.57A2.9 5 0 0 0 -28.86 15.57" fill="none" /><path d="M-34.86 1.97L-31.86 1.97A4.99 8.6 0 0 1 -31.86 19.17L-34.86 19.17A4.99 8.6 0 0 1 -34.86 1.97Z" fill="#fff" /><ellipse cx="-34.86" cy="10.57" rx="4.99" ry="8.6" fill="#fff" /><ellipse cx="-34.86" cy="10.57" rx="3.77" ry="6.5" fill="none" /><ellipse cx="-34.86" cy="10.57" rx="1.51" ry="2.6" fill="none" /><ellipse cx="-34.86" cy="10.57" rx="0.35" ry="0.6" fill="#111" /><path d="M-24.99 -12.87L10.01 -12.87A3.71 6.4 0 0 1 10.01 -0.07L-24.99 -0.07A3.71 6.4 0 0 1 -24.99 -12.87Z" fill="#fff" /><path d="M-17.99 -12.87A3.71 6.4 0 0 0 -17.99 -0.07" fill="none" stroke-width="2.0"/><path d="M-14.99 -12.87A3.71 6.4 0 0 0 -14.99 -0.07" fill="none" stroke-width="0.8"/><path d="M-6.99 -12.87A3.71 6.4 0 0 0 -6.99 -0.07" fill="none" stroke-width="0.8"/><path d="M-2.99 -12.87A3.71 6.4 0 0 0 -2.99 -0.07" fill="none" stroke-width="1.8"/><ellipse cx="-24.99" cy="-6.47" rx="3.71" ry="6.4" fill="#fff" /><path d="M-30.99 -11.47L-24.99 -11.47A2.9 5 0 0 1 -24.99 -1.47L-30.99 -1.47A2.9 5 0 0 1 -30.99 -11.47Z" fill="#fff" /><path d="M-27.99 -11.47A2.9 5 0 0 0 -27.99 -1.47" fill="none" /><path d="M-33.99 -15.07L-30.99 -15.07A4.99 8.6 0 0 1 -30.99 2.13L-33.99 2.13A4.99 8.6 0 0 1 -33.99 -15.07Z" fill="#fff" /><ellipse cx="-33.99" cy="-6.47" rx="4.99" ry="8.6" fill="#fff" /><ellipse cx="-33.99" cy="-6.47" rx="3.77" ry="6.5" fill="none" /><ellipse cx="-33.99" cy="-6.47" rx="1.51" ry="2.6" fill="none" /><ellipse cx="-33.99" cy="-6.47" rx="0.35" ry="0.6" fill="#111" /></g>
<g transform="translate(622.7 664) rotate(-30)" ><path d="M0 -38L2 -38A22.04 38 0 0 1 2 38L0 38A22.04 38 0 0 1 0 -38Z" fill="#fff" /><ellipse cx="0" cy="0" rx="22.04" ry="38" fill="#fff" /><ellipse cx="0" cy="0" rx="9.28" ry="16" fill="#fff" /><path d="M0 -16A9.28 16 0 0 1 0 16" fill="none" /></g>
<g transform="translate(705 617) rotate(-30)" ><path d="M-117 -11.5L-91 -11.5A6.67 11.5 0 0 1 -91 11.5L-117 11.5A6.67 11.5 0 0 1 -117 -11.5Z" fill="#fff" /><path d="M-141 -12L-117 -12A6.96 12 0 0 1 -117 12L-141 12A6.96 12 0 0 1 -141 -12Z" fill="#fff" /><path d="M-154 -13L-141 -13A7.54 13 0 0 1 -141 13L-154 13A7.54 13 0 0 1 -154 -13Z" fill="#fff" /><ellipse cx="-154" cy="0" rx="7.54" ry="13" fill="#fff" /><path d="M-205 -10.5L-154 -10.5A6.09 10.5 0 0 0 -154 10.5L-205 10.5A6.09 10.5 0 0 1 -205 -10.5Z" fill="#fff" /><path d="M-170 -10.5A6.09 10.5 0 0 0 -170 10.5" fill="none" stroke-width="1.8"/><path d="M-192 -10.5A6.09 10.5 0 0 0 -192 10.5" fill="none" stroke-width="1"/><path d="M-122 -12A6.96 12 0 0 0 -122 12" fill="none" stroke-width="1.8"/><path d="M-150 -13A7.54 13 0 0 0 -150 13" fill="none" stroke-width="0.9"/><path d="M-147 -13A7.54 13 0 0 0 -147 13" fill="none" stroke-width="0.9"/><line x1="-210" y1="0" x2="-96" y2="0" /></g>
<g transform="translate(705 693.2) rotate(-30)" ><path d="M47 -14L77 -14A8.12 14 0 0 1 77 14L47 14A8.12 14 0 0 1 47 -14Z" fill="#fff" /><path d="M51 -14A8.12 14 0 0 1 51 14" fill="none" stroke-width="1.5"/><path d="M54.6 -14A8.12 14 0 0 1 54.6 14" fill="none" stroke-width="1.5"/><path d="M58.2 -14A8.12 14 0 0 1 58.2 14" fill="none" stroke-width="1.5"/><path d="M61.8 -14A8.12 14 0 0 1 61.8 14" fill="none" stroke-width="1.5"/><path d="M65.4 -14A8.12 14 0 0 1 65.4 14" fill="none" stroke-width="1.5"/><path d="M69 -14A8.12 14 0 0 1 69 14" fill="none" stroke-width="1.5"/><path d="M72.6 -14A8.12 14 0 0 1 72.6 14" fill="none" stroke-width="1.5"/><ellipse cx="49" cy="0" rx="8.12" ry="14" fill="none" stroke-width="1.3"/><ellipse cx="50" cy="0" rx="5.51" ry="9.5" fill="none" /><path d="M20 -36L39 -36A20.88 36 0 0 1 39 36L20 36A20.88 36 0 0 1 20 -36Z" fill="#fff" /><path d="M12 -38L20 -38A22.04 38 0 0 1 20 38L12 38A22.04 38 0 0 1 12 -38Z" fill="#fff" /><ellipse cx="12" cy="0" rx="22.04" ry="38" fill="#fff" /><ellipse cx="14" cy="0" rx="22.04" ry="38" fill="none" /><path d="M19 -38A22.04 38 0 0 0 19 38" fill="none" /><ellipse cx="12" cy="0" rx="19.72" ry="34" fill="none" /><ellipse cx="5.87" cy="-22.66" rx="3.36" ry="5.8" fill="none" /><ellipse cx="15.75" cy="-24.15" rx="3.36" ry="5.8" fill="none" /><ellipse cx="23.88" cy="-14.34" rx="3.36" ry="5.8" fill="none" /><ellipse cx="26.44" cy="2.18" rx="3.36" ry="5.8" fill="none" /><ellipse cx="22.25" cy="17.68" rx="3.36" ry="5.8" fill="none" /><ellipse cx="13.26" cy="24.9" rx="3.36" ry="5.8" fill="none" /><ellipse cx="3.68" cy="20.48" rx="3.36" ry="5.8" fill="none" /><ellipse cx="-2.01" cy="6.47" rx="3.36" ry="5.8" fill="none" /><ellipse cx="-1.14" cy="-10.57" rx="3.36" ry="5.8" fill="none" /><ellipse cx="12" cy="0" rx="5.22" ry="9" fill="none" /><path d="M-29.78 -2.06L-4.78 -2.06A3.71 6.4 0 0 1 -4.78 10.74L-29.78 10.74A3.71 6.4 0 0 1 -29.78 -2.06Z" fill="#fff" /><path d="M-22.78 -2.06A3.71 6.4 0 0 0 -22.78 10.74" fill="none" stroke-width="2.0"/><path d="M-19.78 -2.06A3.71 6.4 0 0 0 -19.78 10.74" fill="none" stroke-width="0.8"/><path d="M-11.78 -2.06A3.71 6.4 0 0 0 -11.78 10.74" fill="none" stroke-width="0.8"/><path d="M-7.78 -2.06A3.71 6.4 0 0 0 -7.78 10.74" fill="none" stroke-width="1.8"/><ellipse cx="-29.78" cy="4.34" rx="3.71" ry="6.4" fill="#fff" /><path d="M-35.78 -0.66L-29.78 -0.66A2.9 5 0 0 1 -29.78 9.34L-35.78 9.34A2.9 5 0 0 1 -35.78 -0.66Z" fill="#fff" /><path d="M-32.78 -0.66A2.9 5 0 0 0 -32.78 9.34" fill="none" /><path d="M-38.78 -4.26L-35.78 -4.26A4.99 8.6 0 0 1 -35.78 12.94L-38.78 12.94A4.99 8.6 0 0 1 -38.78 -4.26Z" fill="#fff" /><ellipse cx="-38.78" cy="4.34" rx="4.99" ry="8.6" fill="#fff" /><ellipse cx="-38.78" cy="4.34" rx="3.77" ry="6.5" fill="none" /><ellipse cx="-38.78" cy="4.34" rx="1.51" ry="2.6" fill="none" /><ellipse cx="-38.78" cy="4.34" rx="0.35" ry="0.6" fill="#111" /><path d="M-28.06 -18.9L-3.06 -18.9A3.71 6.4 0 0 1 -3.06 -6.1L-28.06 -6.1A3.71 6.4 0 0 1 -28.06 -18.9Z" fill="#fff" /><path d="M-21.06 -18.9A3.71 6.4 0 0 0 -21.06 -6.1" fill="none" stroke-width="2.0"/><path d="M-18.06 -18.9A3.71 6.4 0 0 0 -18.06 -6.1" fill="none" stroke-width="0.8"/><path d="M-10.06 -18.9A3.71 6.4 0 0 0 -10.06 -6.1" fill="none" stroke-width="0.8"/><path d="M-6.06 -18.9A3.71 6.4 0 0 0 -6.06 -6.1" fill="none" stroke-width="1.8"/><ellipse cx="-28.06" cy="-12.5" rx="3.71" ry="6.4" fill="#fff" /><path d="M-34.06 -17.5L-28.06 -17.5A2.9 5 0 0 1 -28.06 -7.5L-34.06 -7.5A2.9 5 0 0 1 -34.06 -17.5Z" fill="#fff" /><path d="M-31.06 -17.5A2.9 5 0 0 0 -31.06 -7.5" fill="none" /><path d="M-37.06 -21.1L-34.06 -21.1A4.99 8.6 0 0 1 -34.06 -3.9L-37.06 -3.9A4.99 8.6 0 0 1 -37.06 -21.1Z" fill="#fff" /><ellipse cx="-37.06" cy="-12.5" rx="4.99" ry="8.6" fill="#fff" /><ellipse cx="-37.06" cy="-12.5" rx="3.77" ry="6.5" fill="none" /><ellipse cx="-37.06" cy="-12.5" rx="1.51" ry="2.6" fill="none" /><ellipse cx="-37.06" cy="-12.5" rx="0.35" ry="0.6" fill="#111" /><path d="M-24.82 12.75L0.18 12.75A3.71 6.4 0 0 1 0.18 25.55L-24.82 25.55A3.71 6.4 0 0 1 -24.82 12.75Z" fill="#fff" /><path d="M-17.82 12.75A3.71 6.4 0 0 0 -17.82 25.55" fill="none" stroke-width="2.0"/><path d="M-14.82 12.75A3.71 6.4 0 0 0 -14.82 25.55" fill="none" stroke-width="0.8"/><path d="M-6.82 12.75A3.71 6.4 0 0 0 -6.82 25.55" fill="none" stroke-width="0.8"/><path d="M-2.82 12.75A3.71 6.4 0 0 0 -2.82 25.55" fill="none" stroke-width="1.8"/><ellipse cx="-24.82" cy="19.15" rx="3.71" ry="6.4" fill="#fff" /><path d="M-30.82 14.15L-24.82 14.15A2.9 5 0 0 1 -24.82 24.15L-30.82 24.15A2.9 5 0 0 1 -30.82 14.15Z" fill="#fff" /><path d="M-27.82 14.15A2.9 5 0 0 0 -27.82 24.15" fill="none" /><path d="M-33.82 10.55L-30.82 10.55A4.99 8.6 0 0 1 -30.82 27.75L-33.82 27.75A4.99 8.6 0 0 1 -33.82 10.55Z" fill="#fff" /><ellipse cx="-33.82" cy="19.15" rx="4.99" ry="8.6" fill="#fff" /><ellipse cx="-33.82" cy="19.15" rx="3.77" ry="6.5" fill="none" /><ellipse cx="-33.82" cy="19.15" rx="1.51" ry="2.6" fill="none" /><ellipse cx="-33.82" cy="19.15" rx="0.35" ry="0.6" fill="#111" /><path d="M-20.46 -29.89L4.54 -29.89A3.71 6.4 0 0 1 4.54 -17.09L-20.46 -17.09A3.71 6.4 0 0 1 -20.46 -29.89Z" fill="#fff" /><path d="M-13.46 -29.89A3.71 6.4 0 0 0 -13.46 -17.09" fill="none" stroke-width="2.0"/><path d="M-10.46 -29.89A3.71 6.4 0 0 0 -10.46 -17.09" fill="none" stroke-width="0.8"/><path d="M-2.46 -29.89A3.71 6.4 0 0 0 -2.46 -17.09" fill="none" stroke-width="0.8"/><path d="M1.54 -29.89A3.71 6.4 0 0 0 1.54 -17.09" fill="none" stroke-width="1.8"/><ellipse cx="-20.46" cy="-23.49" rx="3.71" ry="6.4" fill="#fff" /><path d="M-26.46 -28.49L-20.46 -28.49A2.9 5 0 0 1 -20.46 -18.49L-26.46 -18.49A2.9 5 0 0 1 -26.46 -28.49Z" fill="#fff" /><path d="M-23.46 -28.49A2.9 5 0 0 0 -23.46 -18.49" fill="none" /><path d="M-29.46 -32.09L-26.46 -32.09A4.99 8.6 0 0 1 -26.46 -14.89L-29.46 -14.89A4.99 8.6 0 0 1 -29.46 -32.09Z" fill="#fff" /><ellipse cx="-29.46" cy="-23.49" rx="4.99" ry="8.6" fill="#fff" /><ellipse cx="-29.46" cy="-23.49" rx="3.77" ry="6.5" fill="none" /><ellipse cx="-29.46" cy="-23.49" rx="1.51" ry="2.6" fill="none" /><ellipse cx="-29.46" cy="-23.49" rx="0.35" ry="0.6" fill="#111" /><path d="M-15.5 18.6L9.5 18.6A3.71 6.4 0 0 1 9.5 31.4L-15.5 31.4A3.71 6.4 0 0 1 -15.5 18.6Z" fill="#fff" /><path d="M-8.5 18.6A3.71 6.4 0 0 0 -8.5 31.4" fill="none" stroke-width="2.0"/><path d="M-5.5 18.6A3.71 6.4 0 0 0 -5.5 31.4" fill="none" stroke-width="0.8"/><path d="M2.5 18.6A3.71 6.4 0 0 0 2.5 31.4" fill="none" stroke-width="0.8"/><path d="M6.5 18.6A3.71 6.4 0 0 0 6.5 31.4" fill="none" stroke-width="1.8"/><ellipse cx="-15.5" cy="25" rx="3.71" ry="6.4" fill="#fff" /><path d="M-21.5 20L-15.5 20A2.9 5 0 0 1 -15.5 30L-21.5 30A2.9 5 0 0 1 -21.5 20Z" fill="#fff" /><path d="M-18.5 20A2.9 5 0 0 0 -18.5 30" fill="none" /><path d="M-24.5 16.4L-21.5 16.4A4.99 8.6 0 0 1 -21.5 33.6L-24.5 33.6A4.99 8.6 0 0 1 -24.5 16.4Z" fill="#fff" /><ellipse cx="-24.5" cy="25" rx="4.99" ry="8.6" fill="#fff" /><ellipse cx="-24.5" cy="25" rx="3.77" ry="6.5" fill="none" /><ellipse cx="-24.5" cy="25" rx="1.51" ry="2.6" fill="none" /><ellipse cx="-24.5" cy="25" rx="0.35" ry="0.6" fill="#111" /><path d="M-10.54 -29.89L14.46 -29.89A3.71 6.4 0 0 1 14.46 -17.09L-10.54 -17.09A3.71 6.4 0 0 1 -10.54 -29.89Z" fill="#fff" /><path d="M-3.54 -29.89A3.71 6.4 0 0 0 -3.54 -17.09" fill="none" stroke-width="2.0"/><path d="M-0.54 -29.89A3.71 6.4 0 0 0 -0.54 -17.09" fill="none" stroke-width="0.8"/><path d="M7.46 -29.89A3.71 6.4 0 0 0 7.46 -17.09" fill="none" stroke-width="0.8"/><path d="M11.46 -29.89A3.71 6.4 0 0 0 11.46 -17.09" fill="none" stroke-width="1.8"/><ellipse cx="-10.54" cy="-23.49" rx="3.71" ry="6.4" fill="#fff" /><path d="M-16.54 -28.49L-10.54 -28.49A2.9 5 0 0 1 -10.54 -18.49L-16.54 -18.49A2.9 5 0 0 1 -16.54 -28.49Z" fill="#fff" /><path d="M-13.54 -28.49A2.9 5 0 0 0 -13.54 -18.49" fill="none" /><path d="M-19.54 -32.09L-16.54 -32.09A4.99 8.6 0 0 1 -16.54 -14.89L-19.54 -14.89A4.99 8.6 0 0 1 -19.54 -32.09Z" fill="#fff" /><ellipse cx="-19.54" cy="-23.49" rx="4.99" ry="8.6" fill="#fff" /><ellipse cx="-19.54" cy="-23.49" rx="3.77" ry="6.5" fill="none" /><ellipse cx="-19.54" cy="-23.49" rx="1.51" ry="2.6" fill="none" /><ellipse cx="-19.54" cy="-23.49" rx="0.35" ry="0.6" fill="#111" /><path d="M-6.18 12.75L18.82 12.75A3.71 6.4 0 0 1 18.82 25.55L-6.18 25.55A3.71 6.4 0 0 1 -6.18 12.75Z" fill="#fff" /><path d="M0.82 12.75A3.71 6.4 0 0 0 0.82 25.55" fill="none" stroke-width="2.0"/><path d="M3.82 12.75A3.71 6.4 0 0 0 3.82 25.55" fill="none" stroke-width="0.8"/><path d="M11.82 12.75A3.71 6.4 0 0 0 11.82 25.55" fill="none" stroke-width="0.8"/><path d="M15.82 12.75A3.71 6.4 0 0 0 15.82 25.55" fill="none" stroke-width="1.8"/><ellipse cx="-6.18" cy="19.15" rx="3.71" ry="6.4" fill="#fff" /><path d="M-12.18 14.15L-6.18 14.15A2.9 5 0 0 1 -6.18 24.15L-12.18 24.15A2.9 5 0 0 1 -12.18 14.15Z" fill="#fff" /><path d="M-9.18 14.15A2.9 5 0 0 0 -9.18 24.15" fill="none" /><path d="M-15.18 10.55L-12.18 10.55A4.99 8.6 0 0 1 -12.18 27.75L-15.18 27.75A4.99 8.6 0 0 1 -15.18 10.55Z" fill="#fff" /><ellipse cx="-15.18" cy="19.15" rx="4.99" ry="8.6" fill="#fff" /><ellipse cx="-15.18" cy="19.15" rx="3.77" ry="6.5" fill="none" /><ellipse cx="-15.18" cy="19.15" rx="1.51" ry="2.6" fill="none" /><ellipse cx="-15.18" cy="19.15" rx="0.35" ry="0.6" fill="#111" /><path d="M-2.94 -18.9L22.06 -18.9A3.71 6.4 0 0 1 22.06 -6.1L-2.94 -6.1A3.71 6.4 0 0 1 -2.94 -18.9Z" fill="#fff" /><path d="M4.06 -18.9A3.71 6.4 0 0 0 4.06 -6.1" fill="none" stroke-width="2.0"/><path d="M7.06 -18.9A3.71 6.4 0 0 0 7.06 -6.1" fill="none" stroke-width="0.8"/><path d="M15.06 -18.9A3.71 6.4 0 0 0 15.06 -6.1" fill="none" stroke-width="0.8"/><path d="M19.06 -18.9A3.71 6.4 0 0 0 19.06 -6.1" fill="none" stroke-width="1.8"/><ellipse cx="-2.94" cy="-12.5" rx="3.71" ry="6.4" fill="#fff" /><path d="M-8.94 -17.5L-2.94 -17.5A2.9 5 0 0 1 -2.94 -7.5L-8.94 -7.5A2.9 5 0 0 1 -8.94 -17.5Z" fill="#fff" /><path d="M-5.94 -17.5A2.9 5 0 0 0 -5.94 -7.5" fill="none" /><path d="M-11.94 -21.1L-8.94 -21.1A4.99 8.6 0 0 1 -8.94 -3.9L-11.94 -3.9A4.99 8.6 0 0 1 -11.94 -21.1Z" fill="#fff" /><ellipse cx="-11.94" cy="-12.5" rx="4.99" ry="8.6" fill="#fff" /><ellipse cx="-11.94" cy="-12.5" rx="3.77" ry="6.5" fill="none" /><ellipse cx="-11.94" cy="-12.5" rx="1.51" ry="2.6" fill="none" /><ellipse cx="-11.94" cy="-12.5" rx="0.35" ry="0.6" fill="#111" /><path d="M-1.22 -2.06L23.78 -2.06A3.71 6.4 0 0 1 23.78 10.74L-1.22 10.74A3.71 6.4 0 0 1 -1.22 -2.06Z" fill="#fff" /><path d="M5.78 -2.06A3.71 6.4 0 0 0 5.78 10.74" fill="none" stroke-width="2.0"/><path d="M8.78 -2.06A3.71 6.4 0 0 0 8.78 10.74" fill="none" stroke-width="0.8"/><path d="M16.78 -2.06A3.71 6.4 0 0 0 16.78 10.74" fill="none" stroke-width="0.8"/><path d="M20.78 -2.06A3.71 6.4 0 0 0 20.78 10.74" fill="none" stroke-width="1.8"/><ellipse cx="-1.22" cy="4.34" rx="3.71" ry="6.4" fill="#fff" /><path d="M-7.22 -0.66L-1.22 -0.66A2.9 5 0 0 1 -1.22 9.34L-7.22 9.34A2.9 5 0 0 1 -7.22 -0.66Z" fill="#fff" /><path d="M-4.22 -0.66A2.9 5 0 0 0 -4.22 9.34" fill="none" /><path d="M-10.22 -4.26L-7.22 -4.26A4.99 8.6 0 0 1 -7.22 12.94L-10.22 12.94A4.99 8.6 0 0 1 -10.22 -4.26Z" fill="#fff" /><ellipse cx="-10.22" cy="4.34" rx="4.99" ry="8.6" fill="#fff" /><ellipse cx="-10.22" cy="4.34" rx="3.77" ry="6.5" fill="none" /><ellipse cx="-10.22" cy="4.34" rx="1.51" ry="2.6" fill="none" /><ellipse cx="-10.22" cy="4.34" rx="0.35" ry="0.6" fill="#111" /></g>
<g transform="translate(430 694) rotate(30)" ><path d="M0 -8.5L15 -8.5A4.93 8.5 0 0 1 15 8.5L0 8.5A4.93 8.5 0 0 1 0 -8.5Z" fill="#fff" /><line x1="-3.5" y1="4" x2="13" y2="4" stroke-width="0.6"/><line x1="-3.5" y1="5" x2="13" y2="5" stroke-width="0.6"/><line x1="-3.5" y1="6" x2="13" y2="6" stroke-width="0.6"/><line x1="-3.5" y1="7" x2="13" y2="7" stroke-width="0.6"/><line x1="-3.5" y1="8" x2="13" y2="8" stroke-width="0.6"/><path d="M14 -10.5L30 -10.5A6.09 10.5 0 0 1 30 10.5L14 10.5A6.09 10.5 0 0 1 14 -10.5Z" fill="#fff" /></g><path d="M459 690.67L452.33 696L447.67 708L447 718.67L450.33 728L459 732Z" fill="#fff" /><path d="M456.33 700L455 713.33L455.67 726.67" fill="none" /><path d="M459 690.67L463 682.67L475 680L532.33 710.67L535 713.33L539 722.67L541.67 730.67L548.33 753.33L548.33 766.67L535 789.33L521.67 790.67L516.33 788L479 770.67L477.67 766.67L460.33 730.67Z" fill="#fff" /><path d="M459 690.67L463 689.33L520.33 721.33" fill="none" /><path d="M463 689.33L465.67 686.67L525.67 716L532.33 712" fill="none" /><path d="M464.33 692L520.33 722.67" fill="none" /><path d="M459 690.67L516.33 724L516.33 788" fill="none" /><path d="M520.33 721.33L516.33 724" fill="none" /><path d="M520.33 722.67L520.33 788" fill="none" /><path d="M465.67 713.33L500.33 734.67L500.33 772L479 761.33L465.67 734.67" fill="none" /><path d="M467 716L467 753.33" fill="none" /><ellipse cx="484.33" cy="744.67" rx="12" ry="17" transform="rotate(-20 484.33 744.67)" fill="#fff"/><ellipse cx="489.67" cy="742" rx="8" ry="13" transform="rotate(-20 489.67 742)" fill="none"/><path d="M516.33 753.33L520.33 748L520.33 758.67" fill="none" /><g transform="translate(541.67 753.33) rotate(30)" ><path d="M-12 -24L0 -24A13.92 24 0 0 1 0 24L-12 24A13.92 24 0 0 1 -12 -24Z" fill="#fff" /><ellipse cx="0" cy="0" rx="13.92" ry="24" fill="#fff" /><ellipse cx="0" cy="0" rx="12.18" ry="21" fill="none" /></g>
<g transform="translate(455 761.3) rotate(-30)" ><path d="M0 -24L10 -24A13.92 24 0 0 1 10 24L0 24A13.92 24 0 0 1 0 -24Z" fill="#fff" /><ellipse cx="0" cy="0" rx="13.92" ry="24" fill="#fff" /><ellipse cx="0" cy="0" rx="12.18" ry="21" fill="none" /><ellipse cx="0.5" cy="0" rx="9.28" ry="16" fill="none" /><ellipse cx="1" cy="0" rx="6.96" ry="12" fill="#fff" /><ellipse cx="1" cy="0" rx="5.8" ry="10" fill="none" /></g><g transform="translate(428 777) rotate(-30)" ><ellipse cx="3" cy="0" rx="13.34" ry="23" fill="none" /><ellipse cx="3" cy="0" rx="12.47" ry="21.5" fill="none" /><path d="M-7 -20.2 A14.5 25 0 1 1 -14.8 -7.6" fill="none"/><path d="M-6 -18 A13 22.5 0 1 1 -13.3 -6.8" fill="none"/><circle cx="-6.5" cy="-19.2" r="1.5" fill="#111"/><circle cx="-14" cy="-7.2" r="1.5" fill="#111"/></g>
<g transform="translate(212 710.5) rotate(30)" ><path d="M0 -2.3L10 -2.3A1.33 2.3 0 0 1 10 2.3L0 2.3A1.33 2.3 0 0 1 0 -2.3Z" fill="#111" /><ellipse cx="0" cy="0" rx="3.25" ry="5.6" fill="#fff" /><ellipse cx="0.9" cy="0" rx="2.55" ry="4.4" fill="none" /></g><g transform="translate(181 769) rotate(30)" ><path d="M0 -2.3L10 -2.3A1.33 2.3 0 0 1 10 2.3L0 2.3A1.33 2.3 0 0 1 0 -2.3Z" fill="#111" /><ellipse cx="0" cy="0" rx="3.25" ry="5.6" fill="#fff" /><ellipse cx="0.9" cy="0" rx="2.55" ry="4.4" fill="none" /></g><g transform="translate(227 761) rotate(30)" ><path d="M-6 -44L0 -44A25.52 44 0 0 1 0 44L-6 44A25.52 44 0 0 1 -6 -44Z" fill="#fff" /><ellipse cx="0" cy="0" rx="25.52" ry="44" fill="#fff" /><ellipse cx="0" cy="0" rx="23.49" ry="40.5" fill="none" stroke-dasharray="14 3 30 4 6 3"/><ellipse cx="0" cy="-38" rx="1.28" ry="2.2" fill="#fff" /><ellipse cx="0" cy="38" rx="1.28" ry="2.2" fill="#fff" /><path d="M0 -33L11 -33A19.14 33 0 0 1 11 33L0 33A19.14 33 0 0 1 0 -33Z" fill="#fff" /><path d="M2.12 -33A19.14 33 0 0 0 2.12 33" fill="none" stroke-width="0.7"/><path d="M4.38 -33A19.14 33 0 0 0 4.38 33" fill="none" stroke-width="0.7"/><path d="M6.62 -33A19.14 33 0 0 0 6.62 33" fill="none" stroke-width="0.7"/><path d="M8.88 -33A19.14 33 0 0 0 8.88 33" fill="none" stroke-width="0.7"/><ellipse cx="11" cy="0" rx="17.4" ry="30" fill="#fff" /><path d="M11 -31L20 -31A17.98 31 0 0 1 20 31L11 31A17.98 31 0 0 1 11 -31Z" fill="#fff" /><ellipse cx="20" cy="0" rx="17.98" ry="31" fill="#fff" /><ellipse cx="20" cy="0" rx="15.08" ry="26" fill="none" /><ellipse cx="20" cy="0" rx="12.76" ry="22" fill="#fff" /><ellipse cx="21" cy="0" rx="9.86" ry="17" fill="none" /><ellipse cx="21" cy="0" rx="8.12" ry="14" fill="none" /><ellipse cx="21.5" cy="0" rx="6.38" ry="11" fill="none" /></g><g transform="translate(265.7 783.7) rotate(30)" ><path d="M-11 -25L0 -25A14.5 25 0 0 1 0 25L-11 25A14.5 25 0 0 1 -11 -25Z" fill="#fff" /><ellipse cx="0" cy="0" rx="14.5" ry="25" fill="#fff" /><ellipse cx="0" cy="0" rx="13.05" ry="22.5" fill="#fff" /><path d="M-11 -22.5A13.05 22.5 0 0 1 -11 22.5" fill="none" stroke-width="0.8"/></g>
<path d="M266.91 797.97L275.58 792.56L283.16 791.47L291.82 776.31L304.82 766.57L322.14 763.32L335.14 756.82L335.14 743.82L341.64 736.24L350.3 735.16L356.8 739.49L395.78 760.07L406.61 769.82L415.28 791.47L419.61 810.97L421.77 828.3L415.28 841.29L410.95 862.95L413.11 886.77L415.28 914.93L410.95 934.42L406.61 945.25L389.29 943.09L382.79 938.76L330.81 958.25L313.48 960.42L298.32 953.92L296.15 943.09L285.32 932.26L283.16 914.93L287.49 897.6L268 891.11L265.83 875.95L266.91 841.29Z" fill="#fff" /><path d="M279.5 792L285.5 783L294.5 772.5L305 765.75L317 763.2L324.5 765" fill="none" /><path d="M290 795L296 786L305 778.5L315.5 771L323 769.5" fill="none" /><path d="M333.5 756L334.25 742.5L344 735L350 735.75L356 740.25L356 744L350 750L344 756Z" fill="#fff" /><path d="M344 735L341 738.75L353 745.5L356 742.5" fill="none" /><path d="M334.25 742.5L341 738.75" fill="none" /><ellipse cx="340.25" cy="748.5" rx="3.4" ry="5" fill="none" transform="rotate(-15 340.25 748.5)"/><path d="M354.5 741L361.24 738L397.24 759.75L390.49 763.5Z" fill="#fff" /><path d="M356 744L390.49 765L397.24 761.25" fill="none" /><path d="M285.5 795L318.5 772.5L344 757.5" fill="none" /><path d="M305 798L347 774L384.49 763.5" fill="none" /><path d="M320 804L364.99 783L403.99 769.5" fill="none" /><path d="M338 816L373.99 804L409.99 784.5" fill="none" /><path d="M350 829.49L417.49 795" fill="none" /><ellipse cx="353" cy="763.8" rx="10" ry="5.6" fill="none"/><path d="M341.75 772.5L341.75 783L350 786L364.99 784.5L367.99 777" fill="none" /><path d="M344 778.5L353 780.75L364.99 780" fill="none" /><path d="M305 810L317 786L327.5 783L323 798L314 810" fill="none" /><path d="M338 798L350 804L361.99 816L364.99 824.99" fill="none" /><path d="M332 801L344 810L353 824.99" fill="none" /><path d="M382.99 762L391.99 769.5L403.99 777L409.99 786L417.49 795L417.49 804" fill="none" /><path d="M391.99 769.5L394.99 783L403.99 789L409.99 804" fill="none" /><ellipse cx="324.5" cy="791.7" rx="2.8" ry="3.8" fill="none"/><ellipse cx="397.99" cy="784.5" rx="3" ry="3.8" fill="none"/><ellipse cx="335" cy="768.75" rx="2.2" ry="3" fill="none"/><path d="M266 798L279.5 791.25L287 795L273.5 802.5Z" fill="#fff" /><path d="M266 798L266 804L273.5 808.5L273.5 802.5Z" fill="#fff" /><path d="M266.91 797.97L275.58 792.56L276.66 794.72L337.3 832.63L339.47 836.96" fill="none" /><path d="M275.58 794.72L276.66 893.27" fill="none" /><path d="M266.91 799.06L275.58 805.55" fill="none" /><path d="M266.91 815.3L275.58 821.8" fill="none" /><path d="M266.91 838.04L270.16 841.29" fill="none" /><g transform="translate(303.73 846.71) rotate(-30)" ><ellipse cx="0" cy="0" rx="23.78" ry="41" fill="#fff" /><ellipse cx="2" cy="0" rx="22.04" ry="38" fill="none" /></g><g transform="translate(289.3 856.5) rotate(-30)" ><path d="M0 -32L14 -32A18.56 32 0 0 1 14 32L0 32A18.56 32 0 0 1 0 -32Z" fill="#fff" /><ellipse cx="0" cy="0" rx="18.56" ry="32" fill="#fff" /><ellipse cx="0" cy="0" rx="16.82" ry="29" fill="#fff" /><ellipse cx="0" cy="0" rx="15.95" ry="27.5" fill="none" stroke-width="1.6"/><path d="M10 -27A15.66 27 0 0 1 10 27" fill="none" /></g><line x1="283.16" y1="858.62" x2="410.95" y2="804.47" /><path d="M337.3 838.04L345.97 834.79L361.13 843.46L361.13 891.11L354.63 892.19L338.39 884.61Z" fill="#fff" /><path d="M338.39 841.29L354.63 847.79L354.63 892.19" fill="none" /><path d="M337.3 838.04L345.97 834.79L361.13 843.46L354.63 845.62L338.39 839.12Z" fill="#fff" /><path d="M337.3 859.7L345.97 856.45L361.13 865.12L354.63 867.28L338.39 860.78Z" fill="#fff" /><path d="M337.3 881.36L345.97 878.11L361.13 886.77L354.63 888.94L338.39 882.44Z" fill="#fff" /><g transform="translate(386 849) rotate(30)" ><ellipse cx="0" cy="0" rx="25.52" ry="44" fill="#fff" /><ellipse cx="0" cy="0" rx="19.72" ry="34" fill="none" /><path d="M-4 -33 A12 40 0 0 1 -2 10" fill="none"/></g><path d="M363.3 865.12L371.96 861.87L376.29 865.12L382.79 860.78L384.95 858.62" fill="none" stroke-width="1.5"/><ellipse cx="402.28" cy="819.63" rx="1.6" ry="2.2" fill="none"/><ellipse cx="408" cy="885" rx="10" ry="11" fill="#fff"/><path d="M283.33 894 Q286 886 296.67 884.67 L310 886 L326 895.33 L344.67 896.67 L403.33 890 L416.67 896.67 L416.67 930 L414 939.33 L403.33 947.33 L394 946 L384.67 936.67 L326 962 L308.67 960.67 Q300.67 955.33 298 946 Q294 939.33 284.67 932.67 Q278 916.67 283.33 894Z" fill="#fff"/><path d="M344.67 896.67 Q356.67 926 347.33 960.67" fill="none"/><path d="M310 898 Q332.67 914 332.67 952.67 L326 962" fill="none"/><path d="M315.33 900 Q338 916.67 336.67 958" fill="none"/><path d="M311.33 903.33L318 899.33L339.33 910L342 914L326 910Z" fill="#fff" /><path d="M327.33 935.33L336.67 934L342 938L336.67 939.33Z" fill="#fff" /><path d="M310 955.33L315.33 952.67L339.33 956.67L342 960.67L314 959.33Z" fill="#fff" /><line x1="283.33" y1="934" x2="336.67" y2="906" /><path d="M403.33 890L408.67 903.33L408.67 923.33L403.33 932.67" fill="none" /><path d="M390 927.33L403.33 926L412.67 930" fill="none" /><ellipse cx="396.7" cy="936.7" rx="3.5" ry="4.5" fill="none" transform="rotate(15 396.7 936.7)"/><path d="M379.33 880.67L392.67 870L403.33 872.67L411.33 880.67L403.33 890L390 888.67Z" fill="#fff" /><ellipse cx="398" cy="878" rx="6" ry="7" fill="#fff"/><path d="M358.5 719.5 A2.5 1.5 0 0 1 363.5 719.5 L361.8 724 L360.2 724Z" fill="#fff"/><path d="M386.0 742.5 A2.5 1.5 0 0 1 391.0 742.5 L389.3 747 L387.7 747Z" fill="#fff"/>
<g transform="translate(476 831) rotate(30)" ><path d="M-8 -44L0 -44A25.52 44 0 0 1 0 44L-8 44A25.52 44 0 0 1 -8 -44Z" fill="#fff" /><ellipse cx="0" cy="0" rx="25.52" ry="44" fill="#fff" /><ellipse cx="0" cy="0" rx="23.2" ry="40" fill="none" /><ellipse cx="1" cy="0" rx="17.4" ry="30" fill="none" /><ellipse cx="1" cy="0" rx="15.08" ry="26" fill="none" /><ellipse cx="2" cy="0" rx="10.44" ry="18" fill="#fff" /><ellipse cx="2" cy="0" rx="8.7" ry="15" fill="none" /><path d="M-4 -15A8.7 15 0 0 1 -4 15" fill="none" /></g><g transform="translate(458 857) rotate(30)" ><path d="M0 -3.5L12 -3.5A2.03 3.5 0 0 1 12 3.5L0 3.5A2.03 3.5 0 0 1 0 -3.5Z" fill="#fff" /><ellipse cx="12" cy="0" rx="2.03" ry="3.5" fill="#fff" /></g><g transform="translate(427 861) rotate(-30)" ><path d="M0 -20L10 -20A11.6 20 0 0 1 10 20L0 20A11.6 20 0 0 1 0 -20Z" fill="#fff" /><ellipse cx="0" cy="0" rx="11.6" ry="20" fill="#fff" /><ellipse cx="0" cy="0" rx="9.28" ry="16" fill="none" /><ellipse cx="0.5" cy="0" rx="6.38" ry="11" fill="#fff" /><ellipse cx="0.5" cy="0" rx="4.64" ry="8" fill="none" /></g>
<g transform="translate(705 693.2) rotate(-30)" ><line x1="-83" y1="0" x2="-43" y2="0" stroke-dasharray="30 3 2 3"/><path d="M-170 -12L-83 -12A6.96 12 0 0 1 -83 12L-170 12A6.96 12 0 0 1 -170 -12Z" fill="#fff" /><path d="M-205 -12L-170 -12A6.96 12 0 0 1 -170 12L-205 12A6.96 12 0 0 1 -205 -12Z" fill="#fff" /><path d="M-213 -12.6L-205 -12.6A7.31 12.6 0 0 1 -205 12.6L-213 12.6A7.31 12.6 0 0 1 -213 -12.6Z" fill="#fff" /><ellipse cx="-213" cy="0" rx="7.31" ry="12.6" fill="#fff" /><path d="M-227.8 -12L-213 -12A6.96 12 0 0 0 -213 12L-227.8 12A6.96 12 0 0 1 -227.8 -12Z" fill="#fff" /><ellipse cx="-227.8" cy="0" rx="6.96" ry="12" fill="#fff" /><path d="M-200 -12A6.96 12 0 0 0 -200 12" fill="none" stroke-width="1.8"/><path d="M-210 -12.6A7.31 12.6 0 0 0 -210 12.6" fill="none" stroke-width="0.8"/><path d="M-208 -12.6A7.31 12.6 0 0 0 -208 12.6" fill="none" stroke-width="0.8"/><path d="M-108 -12A6.96 12 0 0 0 -108 12" fill="none" stroke-width="1"/><line x1="-239.8" y1="0" x2="-83" y2="0" /></g>
<g transform="translate(494 916) rotate(30)" ><path d="M-36 -26L-8 -26A15.08 26 0 0 1 -8 26L-36 26A15.08 26 0 0 1 -36 -26Z" fill="#fff" /><path d="M-12.38 -27A15.66 27 0 0 0 -12.38 27" fill="none" stroke-width="0.8"/><path d="M-11.12 -27A15.66 27 0 0 0 -11.12 27" fill="none" stroke-width="0.8"/><path d="M-9.88 -27A15.66 27 0 0 0 -9.88 27" fill="none" stroke-width="0.8"/><path d="M-8.62 -27A15.66 27 0 0 0 -8.62 27" fill="none" stroke-width="0.8"/><path d="M-7 -42L0 -42A24.36 42 0 0 1 0 42L-7 42A24.36 42 0 0 1 -7 -42Z" fill="#fff" /><ellipse cx="0" cy="0" rx="24.36" ry="42" fill="#fff" /><path d="M0 -39.5A22.91 39.5 0 0 0 0 39.5" fill="none" /></g><g transform="translate(512 886) rotate(30)" ><ellipse cx="0" cy="0" rx="2.9" ry="5" fill="#fff" /><ellipse cx="0" cy="0" rx="1.86" ry="3.2" fill="none" /><path d="M0 -2.8L9 -2.8A1.62 2.8 0 0 1 9 2.8L0 2.8A1.62 2.8 0 0 1 0 -2.8Z" fill="#111" /><ellipse cx="9" cy="0" rx="2.9" ry="5" fill="#fff" /><ellipse cx="9" cy="0" rx="1.86" ry="3.2" fill="none" /><ellipse cx="9" cy="0" rx="0.87" ry="1.5" fill="none" /></g><g transform="translate(514 928) rotate(30)" ><ellipse cx="0" cy="0" rx="2.9" ry="5" fill="#fff" /><ellipse cx="0" cy="0" rx="1.86" ry="3.2" fill="none" /><path d="M0 -2.8L9 -2.8A1.62 2.8 0 0 1 9 2.8L0 2.8A1.62 2.8 0 0 1 0 -2.8Z" fill="#111" /><ellipse cx="9" cy="0" rx="2.9" ry="5" fill="#fff" /><ellipse cx="9" cy="0" rx="1.86" ry="3.2" fill="none" /><ellipse cx="9" cy="0" rx="0.87" ry="1.5" fill="none" /></g><g transform="translate(472 938) rotate(30)" ><ellipse cx="0" cy="0" rx="2.9" ry="5" fill="#fff" /><ellipse cx="0" cy="0" rx="1.86" ry="3.2" fill="none" /><path d="M0 -2.8L9 -2.8A1.62 2.8 0 0 1 9 2.8L0 2.8A1.62 2.8 0 0 1 0 -2.8Z" fill="#111" /><ellipse cx="9" cy="0" rx="2.9" ry="5" fill="#fff" /><ellipse cx="9" cy="0" rx="1.86" ry="3.2" fill="none" /><ellipse cx="9" cy="0" rx="0.87" ry="1.5" fill="none" /></g><line x1="368.5" y1="844.8" x2="516" y2="925" />
<g transform="translate(259.5 873) rotate(-30)" ><path d="M0 -27L10 -27A15.66 27 0 0 1 10 27L0 27A15.66 27 0 0 1 0 -27Z" fill="#fff" /><ellipse cx="0" cy="0" rx="15.66" ry="27" fill="#fff" /><path d="M5.56 -27A15.66 27 0 0 1 5.56 27" fill="none" stroke-width="0.7"/><path d="M6.69 -27A15.66 27 0 0 1 6.69 27" fill="none" stroke-width="0.7"/><path d="M7.81 -27A15.66 27 0 0 1 7.81 27" fill="none" stroke-width="0.7"/><path d="M8.94 -27A15.66 27 0 0 1 8.94 27" fill="none" stroke-width="0.7"/><ellipse cx="0" cy="0" rx="14.21" ry="24.5" fill="none" /><ellipse cx="0.5" cy="0" rx="12.47" ry="21.5" fill="none" stroke-width="1.6"/><ellipse cx="1" cy="0" rx="7.54" ry="13" fill="none" stroke-width="1.3"/><ellipse cx="1" cy="0" rx="6.09" ry="10.5" fill="none" /><ellipse cx="-4.77" cy="-15.16" rx="0.87" ry="1.5" fill="none" /><ellipse cx="9.84" cy="-5.99" rx="0.87" ry="1.5" fill="none" /><ellipse cx="5.38" cy="15.16" rx="0.87" ry="1.5" fill="none" /><ellipse cx="-9.24" cy="5.99" rx="0.87" ry="1.5" fill="none" /></g><g transform="translate(244 883) rotate(-30)" ><ellipse cx="0" cy="0" rx="17.4" ry="30" fill="none" stroke-width="1.1"/><ellipse cx="0" cy="0" rx="16.36" ry="28.2" fill="none" stroke-width="0.8"/></g><g transform="translate(226 894.5) rotate(-30)" ><path d="M-8 -24.2 A17.4 30 0 1 1 -17.8 -9.1" fill="none"/><path d="M-7 -21.8 A15.6 27 0 1 1 -16 -8" fill="none"/><circle cx="-7.5" cy="-23" r="1.5" fill="#111"/><circle cx="-17" cy="-8.6" r="1.5" fill="#111"/></g>
<line x1="207" y1="903" x2="330" y2="832.5" />
<line x1="400" y1="790" x2="510" y2="727" />
<line x1="400" y1="846.7" x2="500" y2="789" />
<g transform="translate(705 617) rotate(-30)" ><line x1="-30" y1="0" x2="175" y2="0" stroke-dasharray="40 3 3 3"/></g>
<g transform="translate(705 693.2) rotate(-30)" ><line x1="-40" y1="0" x2="175" y2="0" stroke-dasharray="40 3 3 3"/></g>
</g>
<g stroke="#666" stroke-width="0.7" fill="#fff"><line x1="145.3" y1="698.3" x2="203" y2="746.9"/><circle cx="145.3" cy="698.3" r="6"/></g><text x="145.3" y="701.6" font-size="9" fill="#333" text-anchor="middle" style="font-family:'Liberation Sans',sans-serif">3</text><g stroke="#666" stroke-width="0.7" fill="#fff"><line x1="242.6" y1="643.5" x2="244" y2="751.8"/><circle cx="242.6" cy="643.5" r="6"/></g><text x="242.6" y="646.8" font-size="9" fill="#333" text-anchor="middle" style="font-family:'Liberation Sans',sans-serif">4</text><g stroke="#666" stroke-width="0.7" fill="#fff"><line x1="286" y1="979.3" x2="264" y2="901"/><circle cx="286" cy="979.3" r="6"/></g><text x="286" y="982.6" font-size="9" fill="#333" text-anchor="middle" style="font-family:'Liberation Sans',sans-serif">1</text><g stroke="#666" stroke-width="0.7" fill="#fff"><line x1="260" y1="994.3" x2="250.5" y2="908.7"/><circle cx="260" cy="994.3" r="6"/></g><text x="260" y="997.6" font-size="9" fill="#333" text-anchor="middle" style="font-family:'Liberation Sans',sans-serif">2</text><g stroke="#666" stroke-width="0.7" fill="#fff"><line x1="738.7" y1="361.7" x2="735.3" y2="418.3"/><circle cx="738.7" cy="361.7" r="6"/></g><text x="738.7" y="365" font-size="9" fill="#333" text-anchor="middle" style="font-family:'Liberation Sans',sans-serif">5</text><g stroke="#666" stroke-width="0.7" fill="#fff"><line x1="770" y1="344.2" x2="831.7" y2="426.7"/><circle cx="770" cy="344.2" r="6"/></g><text x="770" y="347.5" font-size="9" fill="#333" text-anchor="middle" style="font-family:'Liberation Sans',sans-serif">8</text><g stroke="#666" stroke-width="0.7" fill="#fff"><line x1="948.3" y1="706.7" x2="940" y2="585"/><circle cx="948.3" cy="706.7" r="6"/></g><text x="948.3" y="710" font-size="9" fill="#333" text-anchor="middle" style="font-family:'Liberation Sans',sans-serif">7</text><g stroke="#666" stroke-width="0.7" fill="#fff"><line x1="784.7" y1="799" x2="784.5" y2="712"/><circle cx="784.7" cy="799" r="6"/></g><text x="784.7" y="802.3" font-size="9" fill="#333" text-anchor="middle" style="font-family:'Liberation Sans',sans-serif">6</text>
</svg></body></html>
